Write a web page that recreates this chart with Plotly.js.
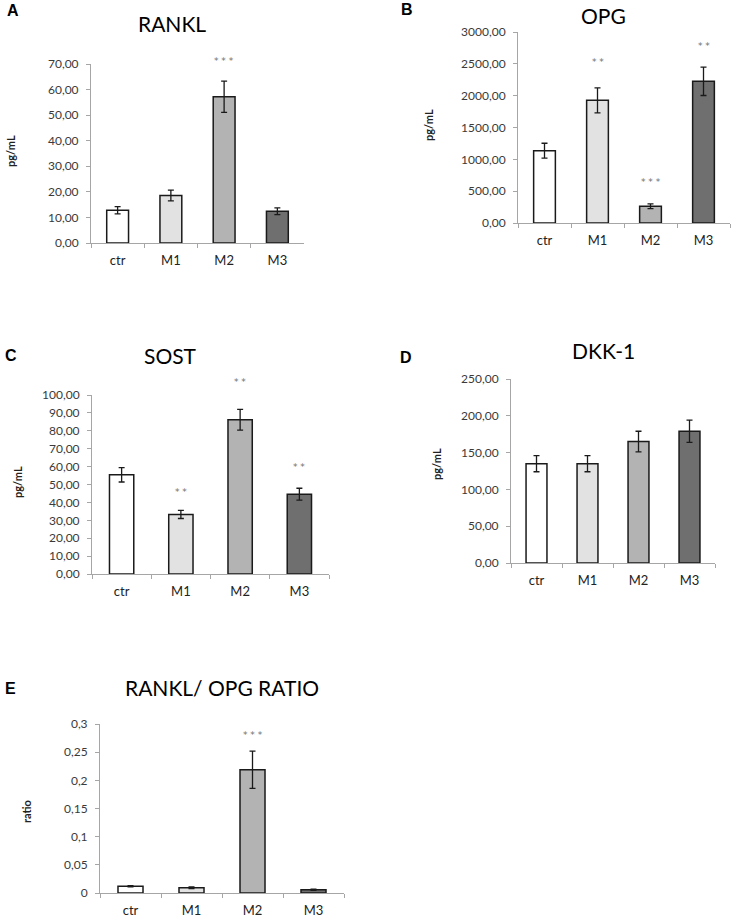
<!DOCTYPE html>
<html>
<head>
<meta charset="utf-8">
<script src="https://cdn.plot.ly/plotly-3.0.1.min.js"></script>
<style>
  html, body { margin: 0; padding: 0; background: #fff; }
  #chart { width: 733px; height: 917px; }
</style>
</head>
<body>
<div id="chart"></div>
<script>
const categories = ['ctr', 'M1', 'M2', 'M3'];

const ranklMean = [12.8, 18.6, 57.2, 12.4];
const ranklErr = [1.4, 2.1, 6.1, 1.3];
const ranklStars = ['', '', '* * *', ''];
const ranklStarY = [null, null, 71, null];

const opgMean = [1136, 1927, 262, 2225];
const opgErr = [117, 196, 37, 222];
const opgStars = ['', '* *', '* * *', '* *'];
const opgStarY = [null, 2530, 644, 2780];

const sostMean = [55.4, 33.3, 86.2, 44.6];
const sostErr = [4.0, 2.3, 5.8, 3.3];
const sostStars = ['', '* *', '* *', '* *'];
const sostStarY = [null, 46, 107, 60];

const dkkMean = [135, 135, 165, 179];
const dkkErr = [11, 11, 14, 15];

const ratioMean = [0.0119, 0.0095, 0.2188, 0.0059];
const ratioErr = [0.001, 0.0015, 0.033, 0.001];
const ratioStars = ['', '', '* * *', ''];
const ratioStarY = [null, null, 0.28, null];

// fill colours per group
const fills = ['#ffffff', '#e2e2e2', '#b3b3b3', '#6f6f6f'];

const W = 733, H = 917;
const px = v => v / W;
const py = v => 1 - v / H;

// panel boxes in pixels: left, right, top, bottom of the plot area
const panels = [
  { key: '', letter: 'A', title: 'RANKL', ylab: 'pg/mL', mean: ranklMean, err: ranklErr, stars: ranklStars, starY: ranklStarY,
    box: [91, 304, 64, 243], range: [0, 70], dtick: 10, fmt: '.2f',
    letterAt: [5, 11], titleAt: [172, 23], ylabAt: [10, 151] },
  { key: '2', letter: 'B', title: 'OPG', ylab: 'pg/mL', mean: opgMean, err: opgErr, stars: opgStars, starY: opgStarY,
    box: [518, 730, 32, 223], range: [0, 3000], dtick: 500, fmt: '.2f',
    letterAt: [399, 10], titleAt: [603, 15], ylabAt: [428, 125] },
  { key: '3', letter: 'C', title: 'SOST', ylab: 'pg/mL', mean: sostMean, err: sostErr, stars: sostStars, starY: sostStarY,
    box: [92, 329, 395, 574], range: [0, 100], dtick: 10, fmt: '.2f',
    letterAt: [3, 355], titleAt: [170, 355], ylabAt: [17, 482] },
  { key: '4', letter: 'D', title: 'DKK-1', ylab: 'pg/mL', mean: dkkMean, err: dkkErr, stars: null, starY: null,
    box: [511, 715, 379, 563], range: [0, 250], dtick: 50, fmt: '.2f',
    letterAt: [398, 357], titleAt: [603, 350], ylabAt: [436, 464] },
  { key: '5', letter: 'E', title: 'RANKL/ OPG RATIO', ylab: 'ratio', mean: ratioMean, err: ratioErr, stars: ratioStars, starY: ratioStarY,
    box: [100, 344, 724, 893], range: [0, 0.3], dtick: 0.05, fmt: '',
    letterAt: [3, 688], titleAt: [222, 687], ylabAt: [26, 812] }
];

const axisLine = '#a6a6a6';
const traces = [];
const layout = {
  width: W, height: H,
  margin: { l: 0, r: 0, t: 0, b: 0 },
  paper_bgcolor: '#fff', plot_bgcolor: '#fff',
  showlegend: false,
  bargap: 0.59,
  separators: ',.',
  font: { family: 'Lato, "Open Sans", sans-serif', color: '#333' },
  annotations: []
};

panels.forEach(p => {
  const xa = 'x' + p.key, ya = 'y' + p.key;
  traces.push({
    type: 'bar',
    x: categories,
    y: p.mean,
    xaxis: xa, yaxis: ya,
    marker: { color: fills, line: { color: '#1a1a1a', width: 1.5 } },
    error_y: { type: 'data', array: p.err, visible: true, color: '#1a1a1a', thickness: 1.3, width: 3 },
    hoverinfo: 'x+y'
  });

  layout['xaxis' + p.key] = {
    domain: [px(p.box[0]), px(p.box[1])],
    anchor: ya,
    type: 'category',
    showgrid: false, zeroline: false,
    showline: true, linecolor: axisLine, linewidth: 1,
    ticks: 'outside', tickson: 'boundaries', ticklen: 4, tickcolor: axisLine,
    ticklabelstandoff: 5,
    tickfont: { size: 13, color: '#222' },
    fixedrange: true
  };
  layout['yaxis' + p.key] = {
    domain: [py(p.box[3]), py(p.box[2])],
    anchor: xa,
    range: p.range, dtick: p.dtick, tickformat: p.fmt,
    showgrid: false, zeroline: false,
    showline: true, linecolor: axisLine, linewidth: 1,
    ticks: 'outside', ticklen: 4, tickcolor: axisLine,
    ticklabelstandoff: 5,
    tickfont: { size: 12, color: '#3a3a3a' },
    fixedrange: true
  };

  // significance stars; some sit above the axis top, so place them
  // in the axis domain frame (fraction of the y range)
  if (p.stars) {
    p.stars.forEach((s, i) => {
      if (!s) return;
      layout.annotations.push({
        xref: xa, yref: ya + ' domain',
        x: categories[i], y: (p.starY[i] - p.range[0]) / (p.range[1] - p.range[0]),
        xanchor: 'center', yanchor: 'middle', showarrow: false, text: s,
        font: { family: 'DejaVu Sans, sans-serif', size: 9, color: '#707070' }
      });
    });
  }

  // panel letter, title and y label
  layout.annotations.push({
    xref: 'paper', yref: 'paper', x: px(p.letterAt[0]), y: py(p.letterAt[1]),
    xanchor: 'left', yanchor: 'middle', showarrow: false, text: '<b>' + p.letter + '</b>',
    font: { family: 'Liberation Sans, Arial, sans-serif', size: 16, color: '#000' }
  });
  layout.annotations.push({
    xref: 'paper', yref: 'paper', x: px(p.titleAt[0]), y: py(p.titleAt[1]),
    xanchor: 'center', yanchor: 'middle', showarrow: false, text: p.title,
    font: { family: 'Lato, sans-serif', size: 21, color: '#000' }
  });
  layout.annotations.push({
    xref: 'paper', yref: 'paper', x: px(p.ylabAt[0]), y: py(p.ylabAt[1]),
    xanchor: 'center', yanchor: 'middle', showarrow: false, textangle: -90, text: '<b>' + p.ylab + '</b>',
    font: { family: 'Lato, sans-serif', size: 11, color: '#222' }
  });
});

Plotly.newPlot('chart', traces, layout, { displayModeBar: false, staticPlot: true });
</script>
</body>
</html>
